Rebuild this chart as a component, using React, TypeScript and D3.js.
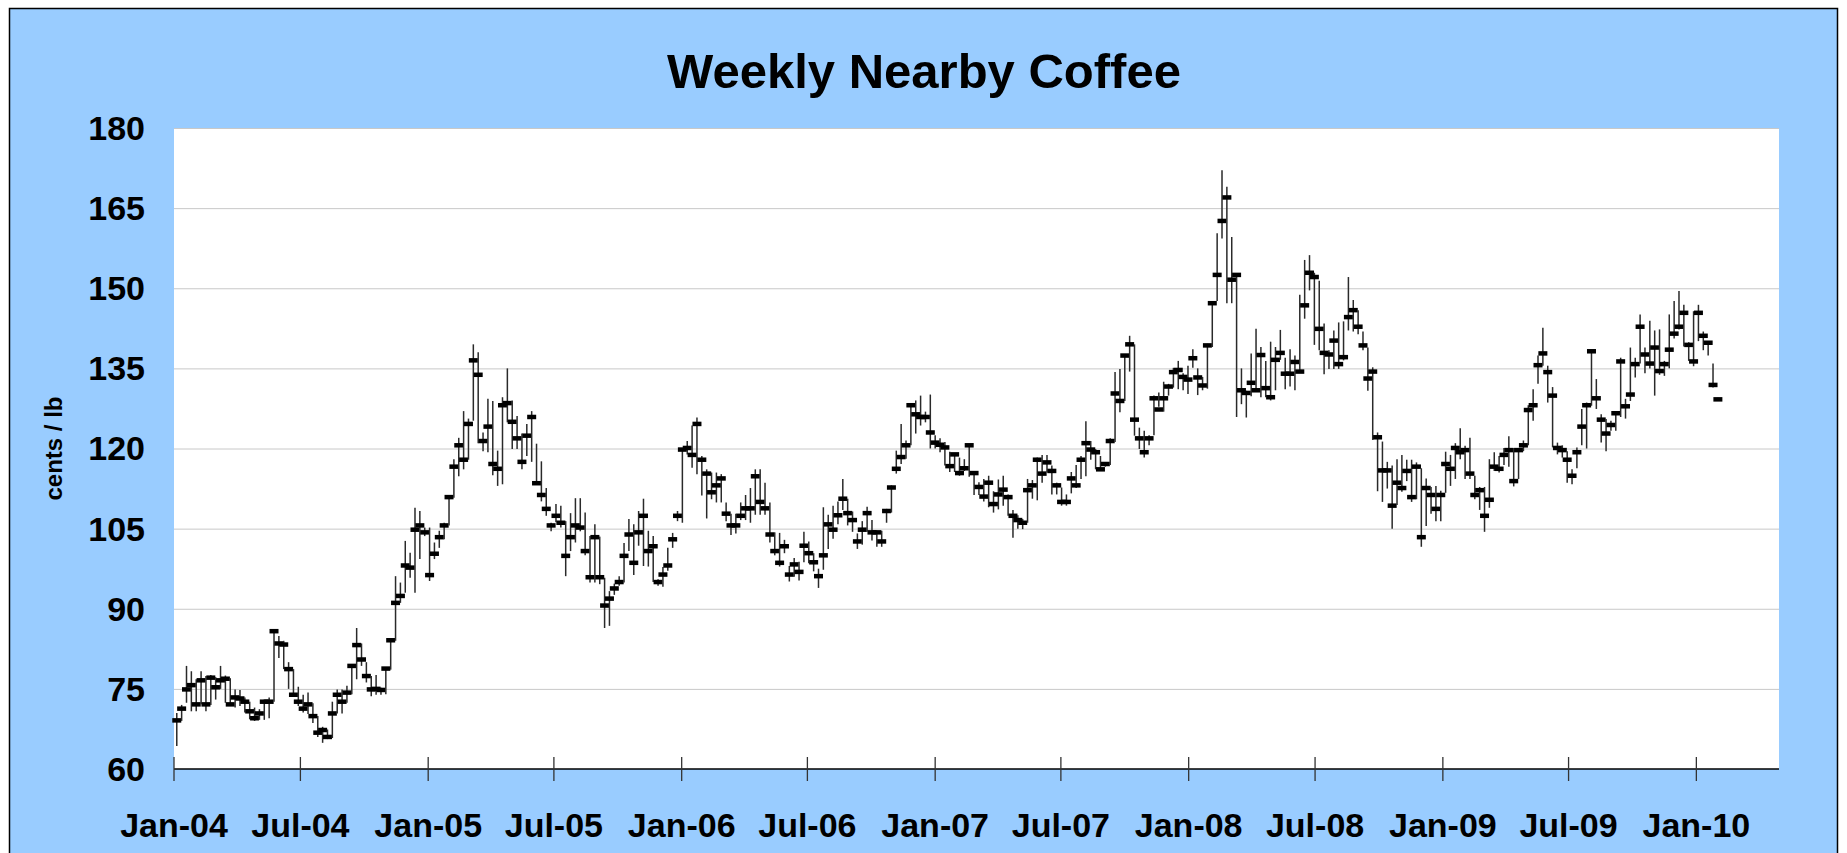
import React from 'react';
import { scaleLinear, scaleTime, timeMonth, timeFormat } from 'd3';

// weekly nearby coffee, cents / lb (Jan 2004 - Feb 2010)
const closes = [
  69.1, 71.3, 74.9, 75.7, 72.1, 76.6, 72.1, 77.1, 75.3, 76.6,
  76.9, 72.1, 73.4, 73.2, 72.6, 70.8, 69.5, 70.4, 72.6, 72.6,
  85.8, 83.5, 83.3, 78.7, 73.9, 72.6, 71.3, 72.1, 69.9, 66.8,
  67.3, 66.0, 70.4, 73.9, 72.6, 74.3, 79.3, 83.2, 80.5, 77.4,
  74.9, 75.0, 74.8, 78.8, 84.1, 91.1, 92.4, 98.1, 97.7, 104.8,
  105.6, 104.3, 96.3, 100.3, 103.4, 105.6, 110.9, 116.6, 120.6, 117.9,
  124.6, 136.5, 133.8, 121.4, 124.1, 117.1, 116.2, 128.1, 128.5, 125.0,
  121.9, 117.5, 122.4, 125.9, 113.5, 111.3, 108.7, 105.6, 107.4, 106.1,
  99.9, 103.4, 105.6, 105.2, 100.8, 95.9, 103.4, 95.9, 90.6, 91.9,
  93.8, 95.0, 99.9, 103.9, 98.6, 104.3, 107.4, 100.8, 101.7, 95.0,
  96.4, 98.1, 103.0, 107.4, 119.8, 120.1, 118.8, 124.6, 117.9, 115.3,
  111.8, 113.1, 114.4, 107.8, 105.6, 105.6, 107.4, 108.8, 108.8, 114.8,
  110.0, 108.8, 103.9, 100.8, 98.6, 101.7, 96.4, 98.3, 96.9, 101.8,
  100.4, 98.7, 96.1, 100.0, 105.8, 104.8, 107.5, 110.6, 107.9, 106.6,
  102.6, 104.8, 107.9, 104.3, 104.3, 102.6, 108.3, 112.7, 116.2, 118.4,
  120.6, 128.1, 126.4, 125.9, 125.9, 123.0, 121.1, 120.7, 120.2, 116.7,
  118.9, 115.4, 116.3, 120.6, 115.4, 112.8, 111.0, 113.6, 109.6, 111.4,
  112.3, 110.9, 107.4, 106.6, 106.1, 112.2, 113.1, 117.9, 115.3, 117.4,
  115.8, 113.1, 110.0, 110.0, 114.4, 113.1, 117.9, 121.0, 119.8, 119.3,
  116.1, 117.1, 121.4, 130.3, 128.9, 137.4, 139.5, 125.4, 121.9, 119.3,
  121.9, 129.4, 127.3, 129.4, 131.6, 134.3, 134.7, 133.4, 132.9, 136.9,
  133.3, 131.8, 139.3, 147.2, 152.5, 162.6, 167.0, 151.6, 152.5, 130.9,
  130.4, 132.3, 130.9, 137.5, 131.3, 129.6, 136.6, 137.9, 134.0, 134.0,
  136.2, 134.4, 146.8, 152.9, 152.1, 142.4, 137.9, 137.6, 140.2, 135.8,
  137.1, 144.6, 145.9, 142.8, 139.3, 133.1, 134.4, 122.1, 115.9, 115.9,
  109.3, 113.6, 112.6, 115.8, 110.9, 116.6, 103.4, 112.6, 111.3, 108.7,
  111.3, 117.1, 116.2, 120.1, 119.3, 119.7, 115.3, 111.3, 112.2, 107.4,
  110.4, 116.6, 116.2, 118.8, 119.7, 113.9, 119.7, 120.6, 127.2, 128.1,
  135.6, 137.8, 134.3, 129.9, 120.1, 119.7, 117.9, 114.9, 119.3, 124.1,
  128.1, 138.2, 129.4, 125.4, 122.8, 124.4, 126.6, 136.3, 127.9, 130.1,
  135.8, 142.8, 137.6, 135.9, 138.9, 134.5, 135.8, 138.5, 141.5, 142.8,
  145.4, 139.4, 136.3, 145.4, 141.1, 139.8, 131.9, 129.2,
];

const highs = [
  70.5, 72.0, 79.3, 78.3, 76.8, 78.3, 77.4, 77.6, 77.2, 79.3,
  77.5, 77.0, 74.9, 74.8, 73.4, 72.6, 71.5, 71.2, 73.0, 73.4,
  86.1, 84.9, 84.0, 80.0, 78.7, 75.4, 73.9, 74.3, 72.3, 69.9,
  67.9, 67.4, 72.6, 74.9, 74.9, 75.6, 79.3, 86.4, 83.5, 80.0,
  77.4, 77.6, 75.2, 78.9, 84.3, 96.1, 94.9, 102.7, 100.5, 108.9,
  108.3, 105.2, 105.2, 102.4, 104.6, 106.1, 111.1, 118.0, 122.0, 127.0,
  125.6, 139.5, 138.0, 123.0, 129.3, 128.9, 119.6, 129.6, 135.0, 129.0,
  126.1, 122.8, 124.6, 127.0, 120.9, 117.6, 112.6, 106.1, 109.6, 109.3,
  106.4, 107.9, 110.7, 110.7, 108.0, 103.6, 105.8, 103.5, 95.8, 93.3,
  94.7, 96.1, 102.3, 106.8, 105.8, 108.3, 110.6, 104.6, 103.6, 95.5,
  97.8, 101.4, 104.2, 108.3, 119.9, 121.4, 124.3, 125.8, 118.6, 116.1,
  115.5, 115.5, 115.2, 109.9, 107.8, 107.8, 109.9, 111.3, 112.6, 116.1,
  116.1, 113.6, 109.9, 104.3, 104.2, 102.9, 98.0, 99.5, 98.8, 104.4,
  102.6, 100.4, 97.5, 109.0, 107.6, 109.3, 110.1, 114.3, 110.6, 108.2,
  104.1, 106.4, 109.1, 106.6, 104.6, 104.6, 108.7, 113.1, 119.6, 124.6,
  121.5, 128.4, 129.0, 129.9, 126.9, 130.1, 122.5, 121.9, 121.2, 119.4,
  119.1, 118.3, 118.0, 120.8, 115.6, 113.7, 114.3, 114.9, 112.0, 114.2,
  114.9, 111.4, 108.5, 107.5, 106.8, 114.3, 114.1, 118.3, 118.8, 118.8,
  116.8, 113.6, 112.7, 111.4, 115.6, 116.9, 118.6, 125.1, 121.4, 119.9,
  118.6, 117.3, 121.9, 134.3, 134.9, 137.6, 141.1, 139.5, 123.9, 123.3,
  122.5, 129.9, 130.5, 132.5, 132.1, 135.1, 136.4, 134.1, 135.5, 138.6,
  135.0, 133.4, 139.6, 147.4, 160.3, 172.1, 169.0, 159.6, 152.8, 135.0,
  130.8, 137.8, 142.4, 139.0, 136.4, 140.0, 139.0, 142.2, 137.0, 138.6,
  137.4, 148.8, 155.3, 156.2, 152.9, 151.4, 143.4, 138.4, 142.1, 143.6,
  143.8, 152.1, 147.8, 145.9, 141.9, 138.9, 135.2, 123.0, 121.3, 117.5,
  116.8, 118.0, 118.8, 117.9, 117.9, 117.4, 116.3, 114.4, 112.8, 113.0,
  112.1, 119.4, 118.8, 121.0, 123.8, 120.5, 122.0, 114.9, 112.8, 112.8,
  118.0, 119.3, 118.6, 120.1, 122.3, 120.1, 120.1, 121.5, 128.1, 131.1,
  137.4, 142.6, 135.5, 131.5, 121.1, 120.6, 119.5, 116.1, 120.2, 127.4,
  128.6, 138.4, 133.0, 126.4, 125.5, 125.2, 126.8, 137.0, 129.3, 138.9,
  137.0, 145.1, 138.9, 143.9, 142.1, 142.3, 136.4, 145.1, 147.6, 149.5,
  146.9, 139.9, 145.7, 146.9, 141.9, 140.1, 135.9, 129.5,
];

const lows = [
  64.3, 69.0, 72.4, 70.8, 70.8, 72.1, 70.8, 72.0, 73.0, 75.0,
  72.4, 71.8, 71.5, 71.8, 70.6, 69.3, 69.0, 69.2, 69.2, 69.5,
  72.6, 80.8, 78.7, 75.0, 73.6, 71.8, 70.6, 70.3, 68.6, 66.0,
  64.9, 65.6, 65.8, 70.4, 70.4, 72.4, 74.0, 76.8, 79.3, 76.2,
  73.6, 73.9, 73.9, 74.0, 78.6, 84.0, 91.1, 93.0, 95.8, 93.0,
  99.3, 103.6, 95.2, 99.3, 101.4, 103.0, 105.6, 110.8, 114.8, 116.1,
  117.9, 125.2, 121.0, 119.5, 119.3, 115.0, 113.0, 113.3, 124.9, 119.9,
  119.9, 116.1, 118.6, 117.5, 113.3, 110.1, 107.4, 104.5, 106.2, 105.2,
  96.1, 100.8, 102.4, 104.5, 100.0, 94.9, 94.9, 94.6, 86.4, 86.8,
  92.6, 94.3, 94.9, 100.8, 96.3, 101.8, 98.0, 97.9, 95.0, 94.3,
  94.1, 97.1, 101.4, 106.4, 106.1, 118.9, 116.4, 115.2, 111.2, 106.9,
  110.5, 109.9, 109.9, 106.4, 103.8, 104.1, 106.6, 106.6, 106.1, 107.6,
  107.6, 107.6, 102.4, 100.0, 97.9, 100.4, 95.1, 96.0, 95.3, 98.7,
  98.5, 97.0, 93.9, 97.3, 101.2, 103.1, 105.8, 108.5, 105.6, 104.4,
  101.2, 102.0, 104.4, 102.8, 101.6, 101.6, 106.1, 108.0, 115.3, 117.1,
  118.1, 120.6, 122.8, 124.3, 124.9, 120.0, 120.0, 119.3, 116.8, 115.6,
  115.6, 114.9, 115.8, 114.7, 111.3, 111.3, 110.1, 109.0, 108.0, 108.6,
  109.3, 107.4, 103.3, 105.0, 104.9, 106.1, 110.6, 110.3, 113.6, 115.5,
  111.4, 111.4, 109.3, 109.3, 111.6, 112.6, 114.3, 114.8, 117.9, 116.1,
  115.8, 116.6, 116.9, 121.2, 126.8, 128.9, 134.4, 122.4, 119.9, 118.3,
  120.6, 122.5, 127.8, 126.9, 129.9, 131.4, 131.1, 130.9, 130.2, 135.1,
  130.0, 130.9, 131.2, 139.0, 147.6, 159.3, 147.2, 147.2, 125.9, 128.3,
  125.8, 129.8, 130.9, 129.6, 129.6, 129.0, 130.9, 136.6, 131.1, 131.6,
  130.9, 134.3, 144.3, 149.6, 139.4, 138.4, 133.9, 134.9, 134.9, 134.9,
  136.5, 142.1, 141.9, 141.4, 138.4, 130.8, 121.6, 112.0, 110.0, 112.5,
  105.0, 109.4, 111.9, 113.9, 110.0, 110.5, 101.6, 105.5, 107.8, 106.4,
  106.4, 111.7, 113.0, 114.3, 118.0, 114.3, 114.3, 110.5, 108.5, 104.4,
  108.9, 115.8, 115.5, 116.9, 116.6, 112.9, 114.3, 119.5, 120.6, 125.2,
  132.1, 135.5, 128.6, 120.2, 118.9, 118.3, 113.6, 113.3, 116.3, 120.6,
  120.0, 128.0, 127.4, 121.1, 119.5, 123.3, 123.3, 125.9, 125.6, 128.9,
  133.3, 135.9, 134.1, 135.0, 129.9, 133.8, 133.6, 135.0, 140.6, 142.3,
  139.1, 136.4, 135.4, 140.1, 138.4, 137.4, 131.4, 129.0,
];

const yTicks = [60, 75, 90, 105, 120, 135, 150, 165, 180];
const title = 'Weekly Nearby Coffee';
const yTitle = 'cents / lb';

const W = 1847;
const H = 853;
const plot = { left: 174, right: 1779, top: 128, bottom: 769 };
const font = '"Liberation Sans", Arial, sans-serif';

const weekDate = (i: number) => new Date(2004, 0, 5 + 7 * i);

export default function App() {
  const x = scaleTime()
    .domain([new Date(2004, 0, 1), new Date(2010, 3, 30)])
    .range([plot.left, plot.right]);
  const y = scaleLinear().domain([60, 180]).range([plot.bottom, plot.top]);
  const xTicks = x.ticks(timeMonth.every(6)!);
  const fmt = timeFormat('%b-%y');

  return (
    <svg
      width={W}
      height={H}
      style={{ position: 'absolute', left: 0, top: 0, display: 'block' }}
      fontFamily={font}
    >
      <rect x={0} y={0} width={W} height={H} fill="#fff" />
      <rect x={9.5} y={8.5} width={1828} height={870} fill="#99CCFF" stroke="#000" strokeWidth={1.5} />
      <rect x={plot.left} y={plot.top} width={plot.right - plot.left} height={plot.bottom - plot.top} fill="#fff" />

      {yTicks.filter(t => t > 60).map(t => (
        <line key={t} x1={plot.left} x2={plot.right} y1={y(t) + 0.5} y2={y(t) + 0.5} stroke="#C8C8C8" strokeWidth={1} />
      ))}

      {/* high-low lines and close dashes */}
      {closes.map((c, i) => {
        const cx = x(weekDate(i));
        return (
          <g key={i}>
            <line x1={cx} x2={cx} y1={y(highs[i])} y2={y(lows[i])} stroke="#2a2a2a" strokeWidth={1.5} />
            <rect x={cx - 4.5} y={y(c) - 2.25} width={9} height={4.5} fill="#000" />
          </g>
        );
      })}

      <line x1={plot.left} x2={plot.right} y1={plot.bottom} y2={plot.bottom} stroke="#000" strokeWidth={1.5} />
      {xTicks.map(t => (
        <g key={t.getTime()}>
          <line x1={x(t)} x2={x(t)} y1={plot.bottom - 12} y2={plot.bottom + 12} stroke="#333" strokeWidth={1.3} />
          <text x={x(t)} y={837} textAnchor="middle" fontSize={34} fontWeight="bold" fill="#000">
            {fmt(t)}
          </text>
        </g>
      ))}

      {yTicks.map(t => (
        <text key={t} x={145} y={y(t)} dy="0.35em" textAnchor="end" fontSize={34} fontWeight="bold" fill="#000">
          {t}
        </text>
      ))}

      <text
        transform={`translate(62, ${(plot.top + plot.bottom) / 2}) rotate(-90)`}
        textAnchor="middle"
        fontSize={24}
        fontWeight="bold"
        fill="#000"
      >
        {yTitle}
      </text>

      <text x={924} y={88} textAnchor="middle" fontSize={49} fontWeight="bold" fill="#000">
        {title}
      </text>
    </svg>
  );
}
